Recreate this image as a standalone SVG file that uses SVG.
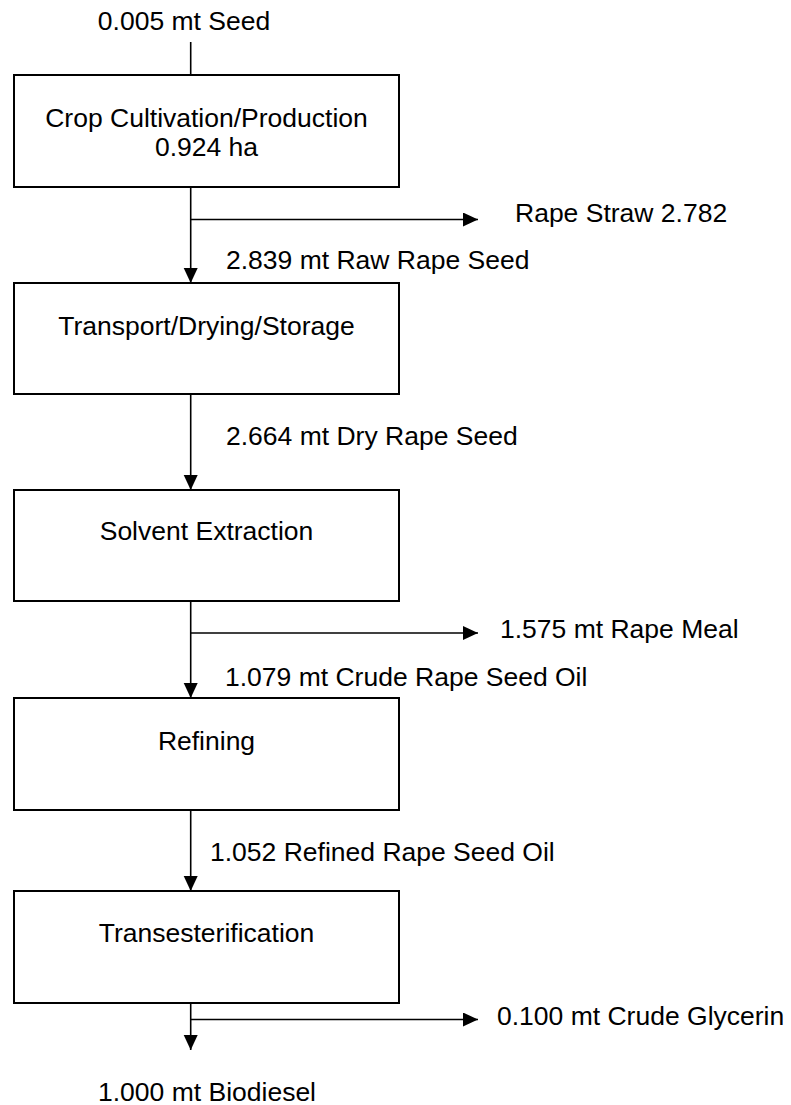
<svg xmlns="http://www.w3.org/2000/svg" width="791" height="1105" viewBox="0 0 791 1105">
<style>
text{font-family:"Liberation Sans",Arial,sans-serif;font-size:26.5px;fill:#000}
.box{fill:#fff;stroke:#000;stroke-width:2}
.c{text-anchor:middle}
.ln{stroke:#000;stroke-width:1.6;fill:none}
</style>
<defs>
<marker id="ah" markerUnits="userSpaceOnUse" markerWidth="16" markerHeight="16" refX="15" refY="7" orient="auto">
<path d="M0,0 L15,7 L0,14 z" fill="#000"/>
</marker>
</defs>
<g id="connectors">
<line class="ln" x1="190.7" y1="42" x2="190.7" y2="75"/>
<line class="ln" x1="190.7" y1="187" x2="190.7" y2="283" marker-end="url(#ah)"/>
<line class="ln" x1="190.7" y1="219.5" x2="478" y2="219.5" marker-end="url(#ah)"/>
<line class="ln" x1="190.7" y1="394" x2="190.7" y2="490" marker-end="url(#ah)"/>
<line class="ln" x1="190.7" y1="601" x2="190.7" y2="698" marker-end="url(#ah)"/>
<line class="ln" x1="190.7" y1="633" x2="478" y2="633" marker-end="url(#ah)"/>
<line class="ln" x1="190.7" y1="810" x2="190.7" y2="891" marker-end="url(#ah)"/>
<line class="ln" x1="190.7" y1="1003" x2="190.7" y2="1050" marker-end="url(#ah)"/>
<line class="ln" x1="190.7" y1="1019.5" x2="478" y2="1019.5" marker-end="url(#ah)"/>
</g>
<g id="labels">
<text x="184" y="30" class="c">0.005 mt Seed</text>
<text x="515" y="222">Rape Straw 2.782</text>
<text x="226" y="269">2.839 mt Raw Rape Seed</text>
<text x="226" y="445">2.664 mt Dry Rape Seed</text>
<text x="500" y="638">1.575 mt Rape Meal</text>
<text x="225" y="686">1.079 mt Crude Rape Seed Oil</text>
<text x="210" y="861">1.052 Refined Rape Seed Oil</text>
<text x="497" y="1025">0.100 mt Crude Glycerin</text>
<text x="207" y="1101" class="c">1.000 mt Biodiesel</text>
</g>
<g id="n1">
<rect class="box" x="14" y="75" width="385" height="112"/>
<text x="206.5" y="127" class="c">Crop Cultivation/Production</text>
<text x="206.5" y="156" class="c">0.924 ha</text>
</g>
<g id="n2">
<rect class="box" x="14" y="283" width="385" height="111"/>
<text x="206.5" y="335" class="c">Transport/Drying/Storage</text>
</g>
<g id="n3">
<rect class="box" x="14" y="490" width="385" height="111"/>
<text x="206.5" y="540" class="c">Solvent Extraction</text>
</g>
<g id="n4">
<rect class="box" x="14" y="698" width="385" height="112"/>
<text x="206.5" y="750" class="c">Refining</text>
</g>
<g id="n5">
<rect class="box" x="14" y="891" width="385" height="112"/>
<text x="206.5" y="942" class="c">Transesterification</text>
</g>
</svg>
